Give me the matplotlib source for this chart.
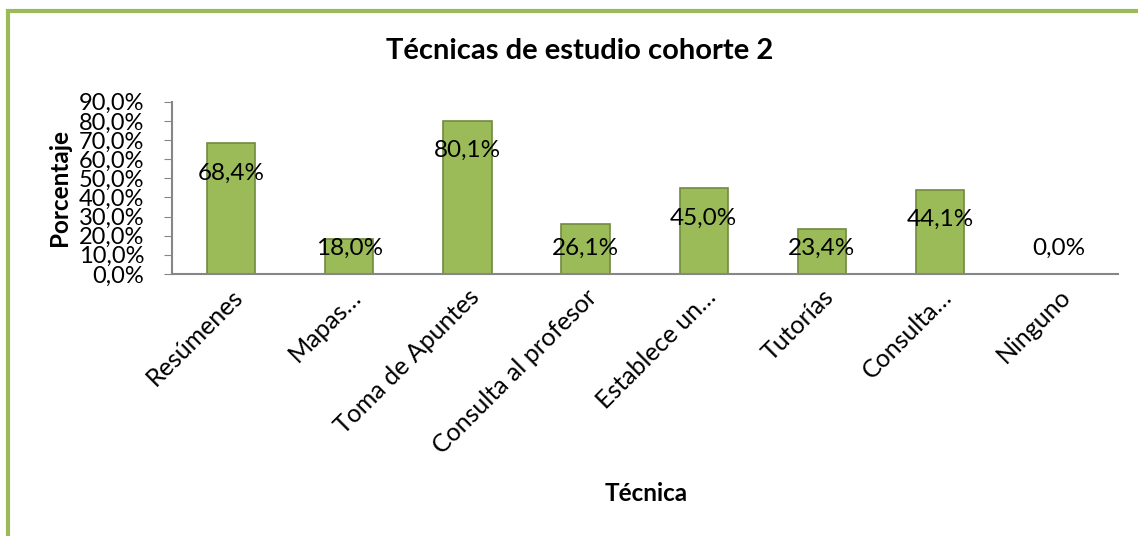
import matplotlib.pyplot as plt
from matplotlib.patches import Rectangle

# Técnicas de estudio, cohorte 2 (porcentaje de estudiantes)
tecnicas = ['Resúmenes', 'Mapas…', 'Toma de Apuntes', 'Consulta al profesor',
            'Establece un…', 'Tutorías', 'Consulta…', 'Ninguno']
porcentajes = [68.4, 18.0, 80.1, 26.1, 45.0, 23.4, 44.1, 0.0]

plt.rcParams['font.family'] = ['Lato', 'DejaVu Sans']

fig = plt.figure(figsize=(11.38, 5.36), dpi=100)
ax = fig.add_axes([0.151, 0.489, 0.831, 0.321])

x = range(len(tecnicas))
ax.bar(x, porcentajes, width=0.41, color='#9BBB59', edgecolor='#71893F', linewidth=1.2)

# etiquetas de datos: dentro del extremo, sin bajar del piso
for i, v in enumerate(porcentajes):
    y = max(v - 15.7, 13.6)
    ax.text(i, y, f'{v:.1f}%'.replace('.', ','), ha='center', va='center', fontsize=17.5)

ax.set_xlim(-0.5, len(tecnicas) - 0.5)
ax.set_ylim(0, 90)
ax.set_yticks(range(0, 91, 10))
ax.set_yticklabels([f'{t},0%' for t in range(0, 91, 10)], fontsize=17)
ax.set_xticks(list(x))
ax.set_xticklabels(tecnicas, rotation=45, ha='right', rotation_mode='anchor', fontsize=18)
ax.tick_params(axis='x', length=0, pad=8)
ax.tick_params(axis='y', length=6, color='#868686', pad=14)

for s in ['top', 'right']:
    ax.spines[s].set_visible(False)
for s in ['left', 'bottom']:
    ax.spines[s].set_color('#868686')
    ax.spines[s].set_linewidth(1.5)

ax.set_ylabel('Porcentaje', fontsize=17.5, fontweight='bold')
ax.yaxis.set_label_coords(-0.107, 0.5)
fig.text(0.509, 0.905, 'Técnicas de estudio cohorte 2', ha='center', va='center',
         fontsize=21, fontweight='bold')
fig.text(0.568, 0.08, 'Técnica', ha='center', va='center', fontsize=17.5, fontweight='bold')

# marco verde del gráfico
fig.add_artist(Rectangle((8 / 1138, -0.1), 1.2, 1.1 - 11 / 536, fill=False,
                         edgecolor='#9BBB59', linewidth=3, transform=fig.transFigure))

fig.savefig('out.png', dpi=100, facecolor='white')
